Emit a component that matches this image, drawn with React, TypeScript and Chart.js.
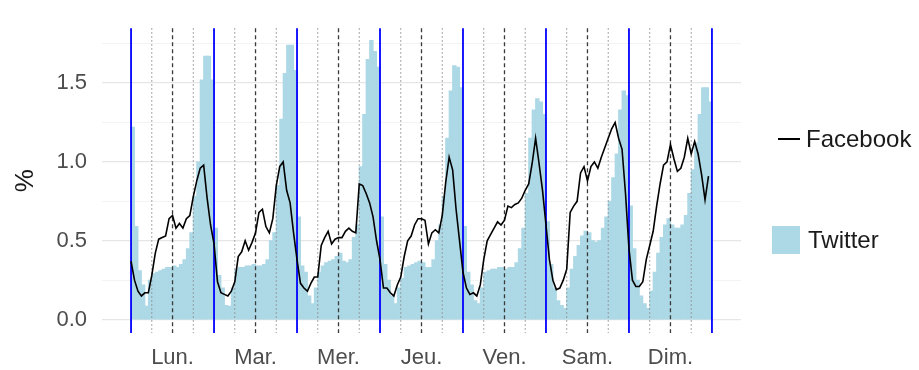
import React, { useEffect, useRef } from "react";
import { Chart, registerables } from "chart.js";

Chart.register(...registerables);

// ---- Data ----
const dayLabels = ["Lun.", "Mar.", "Mer.", "Jeu.", "Ven.", "Sam.", "Dim."];
const hoursPerDay = 24;

// Twitter, % of weekly activity per hour (bars)
const twitterMon = [1.22, 0.59, 0.31, 0.22, 0.085, 0.25, 0.29, 0.3, 0.31, 0.32, 0.33, 0.33, 0.34, 0.33, 0.35, 0.38, 0.45, 0.55, 0.78, 1.0, 1.52, 1.67, 1.67, 1.52];
const twitterTue = [0.58, 0.28, 0.2, 0.09, 0.085, 0.2, 0.32, 0.33, 0.33, 0.34, 0.34, 0.35, 0.34, 0.34, 0.35, 0.38, 0.5, 0.55, 0.85, 1.27, 1.56, 1.74, 1.74, 1.58];
const twitterWed = [0.65, 0.34, 0.3, 0.15, 0.1, 0.2, 0.3, 0.34, 0.36, 0.37, 0.38, 0.4, 0.42, 0.37, 0.36, 0.38, 0.52, 0.6, 0.97, 1.3, 1.65, 1.77, 1.7, 1.6];
const twitterThu = [0.65, 0.35, 0.25, 0.15, 0.1, 0.2, 0.26, 0.33, 0.34, 0.35, 0.36, 0.37, 0.36, 0.33, 0.33, 0.38, 0.5, 0.6, 0.78, 1.15, 1.45, 1.61, 1.6, 1.47];
const twitterFri = [0.59, 0.3, 0.22, 0.12, 0.1, 0.2, 0.3, 0.31, 0.32, 0.32, 0.33, 0.33, 0.32, 0.33, 0.33, 0.36, 0.45, 0.58, 0.8, 1.15, 1.33, 1.4, 1.38, 1.3];
const twitterSat = [0.62, 0.35, 0.2, 0.12, 0.09, 0.07, 0.2, 0.32, 0.4, 0.47, 0.53, 0.56, 0.55, 0.5, 0.49, 0.5, 0.58, 0.65, 0.75, 0.9, 1.05, 1.33, 1.45, 1.42];
const twitterSun = [0.72, 0.45, 0.25, 0.15, 0.1, 0.07, 0.18, 0.3, 0.42, 0.52, 0.6, 0.64, 0.6, 0.58, 0.58, 0.6, 0.66, 0.8, 0.95, 1.12, 1.3, 1.47, 1.47, 1.38];

// Facebook, % of weekly activity per hour (line)
const facebookMon = [0.37, 0.25, 0.18, 0.15, 0.17, 0.17, 0.28, 0.42, 0.51, 0.52, 0.53, 0.64, 0.66, 0.58, 0.61, 0.58, 0.64, 0.66, 0.78, 0.88, 0.96, 0.98, 0.77, 0.6];
const facebookTue = [0.48, 0.24, 0.17, 0.16, 0.15, 0.18, 0.24, 0.4, 0.43, 0.5, 0.44, 0.49, 0.55, 0.68, 0.7, 0.59, 0.55, 0.64, 0.85, 0.97, 1.0, 0.82, 0.74, 0.55];
const facebookWed = [0.38, 0.23, 0.2, 0.18, 0.23, 0.27, 0.27, 0.47, 0.52, 0.56, 0.48, 0.51, 0.52, 0.52, 0.56, 0.58, 0.56, 0.55, 0.86, 0.85, 0.8, 0.74, 0.65, 0.5];
const facebookThu = [0.38, 0.2, 0.2, 0.17, 0.15, 0.22, 0.27, 0.4, 0.5, 0.53, 0.6, 0.64, 0.64, 0.63, 0.48, 0.55, 0.57, 0.55, 0.66, 0.87, 1.03, 0.95, 0.7, 0.5];
const facebookFri = [0.3, 0.2, 0.16, 0.17, 0.15, 0.22, 0.38, 0.5, 0.54, 0.58, 0.62, 0.6, 0.63, 0.72, 0.71, 0.73, 0.74, 0.77, 0.82, 0.86, 0.99, 1.15, 0.99, 0.82];
const facebookSat = [0.6, 0.38, 0.25, 0.19, 0.2, 0.25, 0.32, 0.68, 0.72, 0.75, 0.93, 0.97, 0.88, 0.97, 1.0, 0.96, 1.03, 1.09, 1.15, 1.21, 1.25, 1.15, 1.08, 0.8];
const facebookSun = [0.45, 0.25, 0.21, 0.21, 0.24, 0.38, 0.47, 0.56, 0.72, 0.86, 0.98, 1.0, 1.11, 1.02, 0.94, 0.96, 1.03, 1.15, 1.05, 1.13, 1.05, 0.92, 0.76, 0.91];

const yMajorTicks = [0, 0.5, 1, 1.5];
const yMajorLabels = ["0.0", "0.5", "1.0", "1.5"];
const yMinorTicks = [0.25, 0.75, 1.25, 1.75];

const twitter = [twitterMon, twitterTue, twitterWed, twitterThu, twitterFri, twitterSat, twitterSun].flat();
const facebook = [facebookMon, facebookTue, facebookWed, facebookThu, facebookFri, facebookSat, facebookSun].flat();

const FONT = "'Liberation Sans', Arial, Helvetica, sans-serif";
const TWITTER_COLOR = "#ADD8E6";

const vlinePlugin = {
  id: "dayLines",
  afterDatasetDraw(chart: any, args: any) {
    if (args.meta.type !== "bar") return;
    const { ctx, chartArea: a, scales } = chart;
    const x = scales.x;
    const nDays = dayLabels.length;
    const line = (h: number, color: string, width: number, dash: number[]) => {
      const px = x.getPixelForValue(h);
      ctx.save();
      ctx.beginPath();
      ctx.strokeStyle = color;
      ctx.lineWidth = width;
      ctx.setLineDash(dash);
      ctx.moveTo(px, a.top);
      ctx.lineTo(px, a.bottom);
      ctx.stroke();
      ctx.restore();
    };
    for (let d = 0; d < nDays; d++) {
      line(d * hoursPerDay + 6, "#8a8a8a", 1, [1.5, 2.5]);
      line(d * hoursPerDay + 18, "#8a8a8a", 1, [1.5, 2.5]);
    }
    for (let d = 0; d < nDays; d++) {
      line(d * hoursPerDay + 12, "#3a3a3a", 1.3, [4, 3]);
    }
    for (let d = 0; d <= nDays; d++) {
      line(d * hoursPerDay, "#0000ff", 1.8, []);
    }
  },
};

export default function App() {
  const ref = useRef<HTMLCanvasElement | null>(null);

  useEffect(() => {
    if (!ref.current) return;
    const chart = new Chart(ref.current, {
      type: "bar",
      data: {
        datasets: [
          {
            type: "line",
            label: "Facebook",
            data: facebook.map((v, i) => ({ x: i, y: v })),
            borderColor: "#000000",
            borderWidth: 1.6,
            pointRadius: 0,
            tension: 0,
            order: 1,
          } as any,
          {
            type: "bar",
            label: "Twitter",
            data: twitter.map((v, i) => ({ x: i + 0.5, y: v })),
            backgroundColor: TWITTER_COLOR,
            borderWidth: 0,
            barPercentage: 1,
            categoryPercentage: 1,
            inflateAmount: 0.5,
            grouped: false,
            order: 2,
          } as any,
        ],
      },
      options: {
        animation: false,
        responsive: false,
        maintainAspectRatio: false,
        layout: { padding: { top: 16, right: 178, bottom: 0, left: 0 } },
        plugins: { legend: { display: false }, tooltip: { enabled: false } },
        scales: {
          x: {
            type: "linear",
            offset: false,
            min: -8.4,
            max: 176.4,
            afterBuildTicks: (s: any) => {
              s.ticks = dayLabels.map((_, i) => ({ value: i * hoursPerDay + hoursPerDay / 2 }));
            },
            afterFit: (s: any) => {
              s.height = 37;
            },
            ticks: {
              autoSkip: false,
              maxRotation: 0,
              padding: 12,
              color: "#4d4d4d",
              font: { size: 22, family: FONT },
              callback: (_v: any, i: number) => dayLabels[i],
            },
            grid: { display: false, drawTicks: false, offset: false },
            border: { display: false },
          },
          y: {
            type: "linear",
            min: -0.085,
            max: 1.848,
            afterBuildTicks: (s: any) => {
              s.ticks = [...yMajorTicks, ...yMinorTicks].sort((a, b) => a - b).map((v) => ({ value: v }));
            },
            afterFit: (s: any) => {
              s.width = 102;
            },
            ticks: {
              padding: 15,
              color: "#4d4d4d",
              font: { size: 22, family: FONT },
              callback: (v: any) => {
                const i = yMajorTicks.findIndex((t) => Math.abs(t - Number(v)) < 1e-6);
                return i >= 0 ? yMajorLabels[i] : "";
              },
            },
            grid: {
              drawTicks: false,
              color: (c: any) =>
                yMajorTicks.some((t) => Math.abs(t - c.tick.value) < 1e-6) ? "#e6e6e6" : "#f0f0f0",
              lineWidth: (c: any) =>
                yMajorTicks.some((t) => Math.abs(t - c.tick.value) < 1e-6) ? 1.3 : 0.8,
            },
            border: { display: false },
            title: {
              display: true,
              text: "%",
              color: "#1a1a1a",
              font: { size: 26, family: FONT },
              padding: { top: 10, bottom: 0 },
            },
          },
        },
      },
      plugins: [vlinePlugin],
    } as any);
    return () => chart.destroy();
  }, []);

  const textStyle: React.CSSProperties = {
    position: "absolute",
    fontFamily: FONT,
    fontSize: 24,
    lineHeight: "30px",
    color: "#1a1a1a",
    whiteSpace: "nowrap",
  };

  return (
    <div style={{ position: "fixed", left: 0, top: 0, width: 919, height: 370, background: "#ffffff" }}>
      <canvas ref={ref} width={919} height={370} style={{ display: "block" }} />
      <div style={{ position: "absolute", left: 778, top: 138, width: 22, height: 0, borderTop: "2px solid #000" }} />
      <div style={{ ...textStyle, left: 806, top: 124 }}>Facebook</div>
      <div style={{ position: "absolute", left: 772, top: 226, width: 28, height: 28, background: TWITTER_COLOR }} />
      <div style={{ ...textStyle, left: 808, top: 225 }}>Twitter</div>
    </div>
  );
}
